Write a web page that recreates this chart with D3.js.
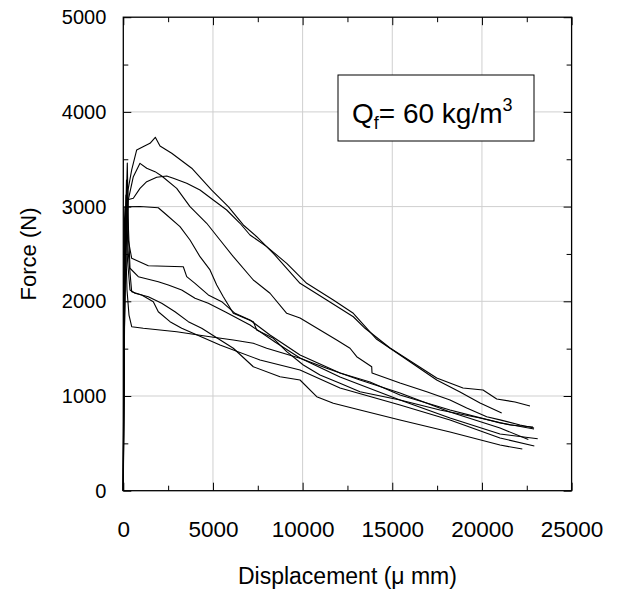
<!DOCTYPE html>
<html><head><meta charset="utf-8">
<script src="https://cdn.jsdelivr.net/npm/d3@7"></script>
<style>
body{margin:0;background:#fff}
text{font-family:"Liberation Sans",Arial,Helvetica,sans-serif;fill:#000}
</style>
</head><body>
<svg id="chart" width="619" height="589"></svg>
<script>
// ---- data (displacement in µm, force in N) ----
const xTicks = [0, 5000, 10000, 15000, 20000, 25000];
const yTicks = [0, 1000, 2000, 3000, 4000, 5000];
const xMinor = [2500, 7500, 12500, 17500, 22500];
const yMinor = [500, 1500, 2500, 3500, 4500];

const A_disp  = [0,67,150,262,468,747,1210,1489,1785,2047,2700,3815,4930,5856,6692,7440,8366,9855,11344,12827,13480,14874,17478,18944,20060,20824,21845,22680];
const A_force = [0,1697,2753,3175,3387,3598,3643,3668,3732,3640,3563,3405,3175,2999,2806,2682,2507,2190,2014,1837,1715,1507,1190,1085,1063,968,937,894];

const B_disp  = [0,39,150,279,558,931,1305,1768,2142,2978,3720,4651,5393,6135,7250,8181,9113,9855,10970,11901,12643,13017,13853,13870,15431,16920,18220,19151,20267,21009,22124,22905];
const B_force = [0,1486,2542,3070,3316,3457,3405,3369,3323,3193,2999,2824,2647,2471,2225,2085,1873,1824,1697,1591,1504,1415,1309,1243,1137,1045,958,873,781,748,694,662];

const C_disp  = [0,39,95,190,558,931,1305,1863,2420,2789,3536,4277,5019,5767,6508,7066,7997,9113,10228,11712,12827,14132,15431,17478,18778,19893,21103];
const C_force = [0,1380,2435,3070,3088,3193,3263,3310,3323,3299,3246,3175,3070,2964,2824,2700,2577,2401,2190,2014,1873,1599,1433,1169,1042,926,821];

const D_disp  = [0,28,67,95,931,1952,2420,3162,3720,4277,4835,5209,5577,6135,7250,7440,8366,9113,10039,10970,12085,13201,15431,17662,19893,21566,22849];
const D_force = [0,2014,2859,2999,3001,2988,2911,2788,2647,2471,2331,2172,2049,1873,1785,1697,1609,1468,1327,1222,1134,1045,958,852,768,694,673];

const E_disp  = [0,39,178,279,468,1394,3346,3536,3999,4740,5488,6229,7066,8181,9855,12085,13758,15431,18220,21009,22905];
const E_force = [0,2014,3281,2647,2454,2376,2365,2260,2190,2067,1996,1873,1803,1644,1433,1243,1148,1011,853,716,652];

const F_disp  = [0,67,223,290,374,837,1952,2510,3257,3999,4740,5672,7066,8460,9855,12085,15431,18220,21009,23111];
const F_force = [0,2225,3460,2753,2349,2260,2207,2172,2119,2032,1979,1890,1750,1570,1401,1201,958,768,599,549];

const G_disp  = [0,39,139,234,374,653,1394,2142,2883,3625,4372,6135,7250,8739,9855,10786,11712,13201,15431,18220,21009,22252];
const G_force = [0,1803,2964,2433,2119,2085,2049,1979,1890,1785,1715,1504,1309,1204,1169,993,923,852,747,620,482,440];

const H_disp  = [0,50,150,262,468,1026,1673,1952,2604,3257,5393,7624,9855,12085,15431,18220,21009,22921];
const H_force = [0,2119,3122,2542,2101,2067,1996,1890,1785,1715,1539,1380,1275,1085,905,747,557,472];

const I_disp  = [0,39,106,206,318,468,1115,2978,4835,6135,7250,7997,9855,11344,13201,15431,18220,21009,22587];
const I_force = [0,2014,2806,2119,1855,1732,1715,1679,1626,1591,1557,1504,1398,1293,1169,1032,831,662,541];

const series = [
  [A_disp, A_force], [B_disp, B_force], [C_disp, C_force], [D_disp, D_force],
  [E_disp, E_force], [F_disp, F_force], [G_disp, G_force], [H_disp, H_force], [I_disp, I_force]
];

// ---- layout ----
const L = 123.3, R = 571.6, T = 17.2, B = 490.7;
const svg = d3.select("#chart");
const x = d3.scaleLinear().domain([0, 25000]).range([L, R]);
const y = d3.scaleLinear().domain([0, 5000]).range([B, T]);

// grid
const grid = svg.append("g").attr("stroke", "#cfcfcf").attr("stroke-width", 1);
xTicks.filter(v => v > 0 && v < 25000).forEach(v => {
  grid.append("line").attr("x1", x(v)).attr("x2", x(v)).attr("y1", T).attr("y2", B);
});
yTicks.filter(v => v > 0 && v < 5000).forEach(v => {
  grid.append("line").attr("x1", L).attr("x2", R).attr("y1", y(v)).attr("y2", y(v));
});

// axes
function styleAxis(g){ g.select(".domain").remove(); g.selectAll("line").attr("stroke","#000").attr("stroke-width",1); }
svg.append("g").attr("transform", `translate(0,${B})`)
  .call(d3.axisBottom(x).tickValues(xTicks).tickSize(-8).tickPadding(30).tickFormat(d3.format("d")))
  .call(styleAxis).selectAll("text").style("font-size", "22.5px").attr("font-family", null);
svg.append("g").attr("transform", `translate(0,${B})`)
  .call(d3.axisBottom(x).tickValues(xMinor).tickSize(-5).tickFormat(""))
  .call(styleAxis);
svg.append("g").attr("transform", `translate(0,${T})`)
  .call(d3.axisTop(x).tickValues(xTicks).tickSize(-8).tickFormat(""))
  .call(styleAxis);
svg.append("g").attr("transform", `translate(0,${T})`)
  .call(d3.axisTop(x).tickValues(xMinor).tickSize(-5).tickFormat(""))
  .call(styleAxis);
svg.append("g").attr("transform", `translate(${L},0)`)
  .call(d3.axisLeft(y).tickValues(yTicks).tickSize(-8).tickPadding(17).tickFormat(d3.format("d")))
  .call(styleAxis).selectAll("text").style("font-size", "20px").attr("font-family", null);
svg.append("g").attr("transform", `translate(${L},0)`)
  .call(d3.axisLeft(y).tickValues(yMinor).tickSize(-5).tickFormat(""))
  .call(styleAxis);
svg.append("g").attr("transform", `translate(${R},0)`)
  .call(d3.axisRight(y).tickValues(yTicks).tickSize(-8).tickFormat(""))
  .call(styleAxis);
svg.append("g").attr("transform", `translate(${R},0)`)
  .call(d3.axisRight(y).tickValues(yMinor).tickSize(-5).tickFormat(""))
  .call(styleAxis);

// frame
svg.append("rect").attr("x", L).attr("y", T).attr("width", R - L).attr("height", B - T)
  .attr("fill", "none").attr("stroke", "#000").attr("stroke-width", 1.3);

// curves
const line = d3.line().x(d => x(d[0])).y(d => y(d[1]));
series.forEach(([ds, fv]) => {
  const pts = ds.map((d, i) => [d, fv[i]]);
  svg.append("path").datum(pts).attr("d", line)
    .attr("fill", "none").attr("stroke", "#000").attr("stroke-width", 1.1)
    .attr("stroke-linejoin", "round");
});

// legend box
svg.append("rect").attr("x", 338).attr("y", 75).attr("width", 196).attr("height", 66)
  .attr("fill", "#fff").attr("stroke", "#000").attr("stroke-width", 1);
const lt = svg.append("text").attr("x", 352).attr("y", 123).style("font-size", "28px");
lt.append("tspan").text("Q");
lt.append("tspan").attr("dy", 6).style("font-size", "18px").text("f");
lt.append("tspan").attr("dy", -6).text("= 60 kg/m");
lt.append("tspan").attr("dy", -12).style("font-size", "18px").text("3");

// axis titles
svg.append("text").attr("x", (L + R) / 2).attr("y", 584).attr("text-anchor", "middle")
  .style("font-size", "23px").text("Displacement (\u03bc mm)");
svg.append("text").attr("transform", `translate(36,${(T + B) / 2}) rotate(-90)`)
  .attr("text-anchor", "middle").style("font-size", "22px").text("Force (N)");
</script>
</body></html>
